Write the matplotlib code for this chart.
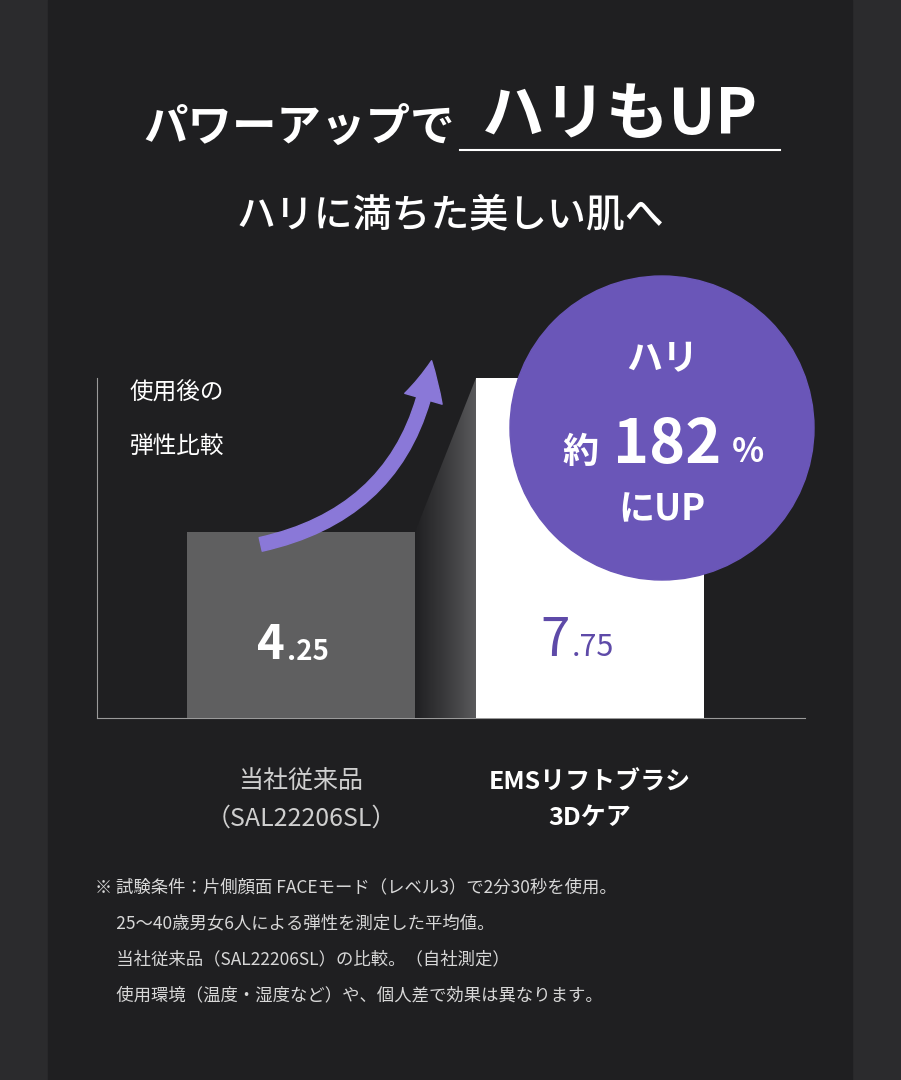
import numpy as np
import matplotlib.pyplot as plt
from matplotlib.patches import Circle, FancyArrowPatch, Rectangle, Polygon
from matplotlib.colors import LinearSegmentedColormap

plt.rcParams['font.family'] = ['Noto Sans CJK JP', 'DejaVu Sans']

categories = ["当社従来品\n（SAL22206SL）", "EMSリフトブラシ\n3Dケア"]
values = [4.25, 7.75]
value_int = ["4", "7"]
value_dec = [".25", ".75"]
notes = [
    "※ 試験条件：片側顔面 FACEモード（レベル3）で2分30秒を使用。",
    "　 25～40歳男女6人による弾性を測定した平均値。",
    "　 当社従来品（SAL22206SL）の比較。（自社測定）",
    "　 使用環境（温度・湿度など）や、個人差で効果は異なります。",
]

W, H = 901, 1080
fig = plt.figure(figsize=(W / 100, H / 100), dpi=100)
fig.patch.set_facecolor("#2b2b2d")
fig.add_artist(Rectangle((48 / W, 0), 804 / W, 1, color="#1f1f21", zorder=0,
                         transform=fig.transFigure))

# axes for bars (pixel-aligned)
ax = fig.add_axes([97 / W, 1 - 718 / H, (805 - 97) / W, (718 - 378) / H])
ax.set_zorder(1)
ax.set_facecolor("none")
ax.set_xlim(97, 805)
ax.set_ylim(0, 7.75)
ax.bar([301, 590], values, width=228, color=["#5f5f60", "white"], zorder=3)
for s in ["top", "right"]:
    ax.spines[s].set_visible(False)
for s in ["left", "bottom"]:
    ax.spines[s].set_color("#9a9a9a")
ax.set_xticks([])
ax.set_yticks([])

bg = fig.add_axes([0, 0, 1, 1])
bg.set_zorder(2)
bg.patch.set_alpha(0)
bg.set_xlim(0, W)
bg.set_ylim(H, 0)
bg.axis("off")

# title
bg.text(455, 128, "パワーアップで", color="white", fontsize=32, ha="right", va="center", fontweight="bold")
bg.text(620, 116, "ハリもUP", color="white", fontsize=45, ha="center", va="center", fontweight="bold")
bg.plot([460, 780], [150, 150], color="white", lw=1.5)
bg.text(450, 215, "ハリに満ちた美しい肌へ", color="white", fontsize=28, ha="center", va="center", fontweight="medium")

# shadow between bars
shade = LinearSegmentedColormap.from_list("shade", ["#202022", "#3a3a3c", "#5a5a5c"])
grad = np.linspace(0, 1, 256).reshape(1, -1)
im = bg.imshow(grad, extent=(415, 476, 718, 378), cmap=shade, aspect="auto", zorder=1)
im.set_clip_path(Polygon([(415, 532), (476, 378), (476, 718), (415, 718)], transform=bg.transData))
bg.set_xlim(0, W)
bg.set_ylim(H, 0)

# bar value labels
bg.text(285, 645, value_int[0], color="white", fontsize=34, ha="right", va="center", fontweight="bold")
bg.text(287, 652, value_dec[0], color="white", fontsize=20, ha="left", va="center", fontweight="bold")
bg.text(570, 640, value_int[1], color="#5e4aa8", fontsize=38, ha="right", va="center")
bg.text(572, 648, value_dec[1], color="#5e4aa8", fontsize=22, ha="left", va="center")

bg.text(130, 393, "使用後の", color="white", fontsize=17, va="center")
bg.text(130, 446, "弾性比較", color="white", fontsize=17, va="center")

# arrow
arr = FancyArrowPatch((258, 545), (432, 358), connectionstyle="arc3,rad=0.35",
                      arrowstyle="simple,head_width=28,head_length=28,tail_width=10",
                      color="#8a78d8", zorder=4)
bg.add_patch(arr)

# circle
bg.add_patch(Circle((662, 428), 152, color="#6a56b8", zorder=5))
bg.text(662, 360, "ハリ", color="white", fontsize=26, ha="center", va="center", fontweight="bold", zorder=6)
bg.text(580, 452, "約", color="white", fontsize=26, ha="center", va="center", fontweight="bold", zorder=6)
bg.text(667, 445, "182", color="white", fontsize=44, ha="center", va="center", fontweight="bold", zorder=6)
bg.text(748, 452, "%", color="white", fontsize=24, ha="center", va="center", fontweight="bold", zorder=6)
bg.text(662, 510, "にUP", color="white", fontsize=26, ha="center", va="center", fontweight="bold", zorder=6)

# category labels
bg.text(301, 800, categories[0], color="#cfcfcf", fontsize=18, ha="center", va="center", linespacing=1.6)
bg.text(590, 800, categories[1], color="white", fontsize=18, ha="center", va="center", linespacing=1.6, fontweight="bold")

for i, line in enumerate(notes):
    bg.text(95, 887 + i * 36, line, color="#d8d8d8", fontsize=12.5, va="center")

fig.savefig("out.png", dpi=100, facecolor=fig.get_facecolor())
